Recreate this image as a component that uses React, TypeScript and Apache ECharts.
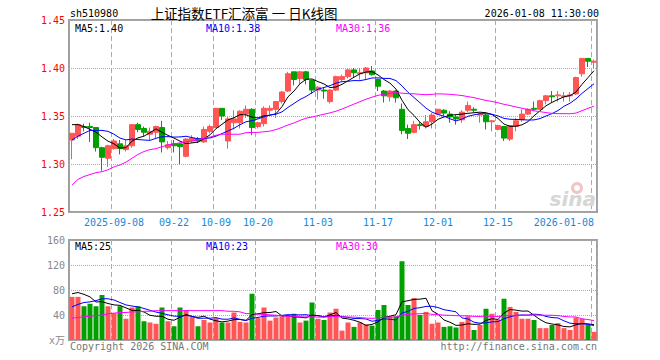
import React, { useEffect, useRef } from 'react';
import * as echarts from 'echarts';

// ---- data ----
const dates = [
  '2025-08-28', '2025-08-29', '2025-09-01', '2025-09-02', '2025-09-03', '2025-09-04', '2025-09-05', '2025-09-08',
  '2025-09-09', '2025-09-10', '2025-09-11', '2025-09-12', '2025-09-15', '2025-09-16', '2025-09-17', '2025-09-18',
  '2025-09-19', '2025-09-22', '2025-09-23', '2025-09-24', '2025-09-25', '2025-09-26', '2025-09-29', '2025-09-30',
  '2025-10-09', '2025-10-10', '2025-10-13', '2025-10-14', '2025-10-15', '2025-10-16', '2025-10-17', '2025-10-20',
  '2025-10-21', '2025-10-22', '2025-10-23', '2025-10-24', '2025-10-27', '2025-10-28', '2025-10-29', '2025-10-30',
  '2025-10-31', '2025-11-03', '2025-11-04', '2025-11-05', '2025-11-06', '2025-11-07', '2025-11-10', '2025-11-11',
  '2025-11-12', '2025-11-13', '2025-11-14', '2025-11-17', '2025-11-18', '2025-11-19', '2025-11-20', '2025-11-21',
  '2025-11-24', '2025-11-25', '2025-11-26', '2025-11-27', '2025-11-28', '2025-12-01', '2025-12-02', '2025-12-03',
  '2025-12-04', '2025-12-05', '2025-12-08', '2025-12-09', '2025-12-10', '2025-12-11', '2025-12-12', '2025-12-15',
  '2025-12-16', '2025-12-17', '2025-12-18', '2025-12-19', '2025-12-22', '2025-12-23', '2025-12-24', '2025-12-25',
  '2025-12-26', '2025-12-29', '2025-12-30', '2025-12-31', '2026-01-05', '2026-01-06', '2026-01-07', '2026-01-08',
];

const opens = [
  1.325, 1.329, 1.339, 1.339, 1.338, 1.317, 1.306, 1.316, 1.321, 1.315, 1.319, 1.341, 1.337, 1.331, 1.333, 1.338,
  1.317, 1.321, 1.321, 1.308, 1.324, 1.326, 1.323, 1.334, 1.338, 1.358, 1.324, 1.343, 1.343, 1.352, 1.357, 1.339,
  1.342, 1.356, 1.357, 1.365, 1.376, 1.396, 1.389, 1.396, 1.387, 1.377, 1.377, 1.365, 1.377, 1.388, 1.391, 1.398,
  1.394, 1.395, 1.397, 1.388, 1.376, 1.370, 1.376, 1.357, 1.337, 1.333, 1.341, 1.339, 1.344, 1.352, 1.356, 1.352,
  1.349, 1.346, 1.356, 1.357, 1.351, 1.351, 1.344, 1.336, 1.339, 1.326, 1.339, 1.346, 1.352, 1.358, 1.357, 1.366,
  1.371, 1.371, 1.370, 1.371, 1.373, 1.394, 1.410, 1.406,
];
const closes = [
  1.332, 1.341, 1.338, 1.338, 1.317, 1.307, 1.319, 1.324, 1.316, 1.319, 1.341, 1.336, 1.333, 1.334, 1.339, 1.323,
  1.320, 1.319, 1.318, 1.326, 1.327, 1.324, 1.336, 1.339, 1.358, 1.350, 1.347, 1.347, 1.355, 1.357, 1.338, 1.343,
  1.358, 1.358, 1.365, 1.375, 1.394, 1.388, 1.396, 1.388, 1.377, 1.380, 1.376, 1.377, 1.391, 1.391, 1.398, 1.395,
  1.395, 1.400, 1.393, 1.381, 1.371, 1.376, 1.369, 1.335, 1.332, 1.341, 1.340, 1.344, 1.351, 1.357, 1.353, 1.349,
  1.347, 1.354, 1.361, 1.356, 1.352, 1.344, 1.345, 1.340, 1.327, 1.340, 1.345, 1.352, 1.357, 1.357, 1.366, 1.371,
  1.370, 1.372, 1.371, 1.372, 1.390, 1.410, 1.407, 1.407,
];
const lows = [
  1.305, 1.326, 1.334, 1.323, 1.313, 1.293, 1.297, 1.315, 1.310, 1.313, 1.317, 1.333, 1.329, 1.325, 1.326, 1.312,
  1.315, 1.312, 1.300, 1.307, 1.322, 1.322, 1.322, 1.332, 1.337, 1.346, 1.316, 1.336, 1.337, 1.348, 1.330, 1.337,
  1.339, 1.352, 1.348, 1.363, 1.375, 1.382, 1.383, 1.383, 1.373, 1.367, 1.368, 1.363, 1.376, 1.386, 1.389, 1.390,
  1.388, 1.388, 1.392, 1.376, 1.364, 1.365, 1.364, 1.331, 1.326, 1.332, 1.336, 1.337, 1.337, 1.351, 1.350, 1.343,
  1.341, 1.343, 1.354, 1.354, 1.343, 1.336, 1.334, 1.335, 1.324, 1.324, 1.334, 1.344, 1.351, 1.355, 1.357, 1.362,
  1.364, 1.365, 1.365, 1.365, 1.372, 1.391, 1.401, 1.400,
];
const highs = [
  1.332, 1.342, 1.342, 1.343, 1.338, 1.318, 1.320, 1.326, 1.325, 1.325, 1.341, 1.343, 1.339, 1.338, 1.340, 1.345,
  1.324, 1.325, 1.322, 1.327, 1.330, 1.328, 1.339, 1.341, 1.358, 1.358, 1.349, 1.356, 1.356, 1.361, 1.358, 1.344,
  1.360, 1.361, 1.365, 1.376, 1.396, 1.396, 1.397, 1.397, 1.388, 1.381, 1.380, 1.378, 1.392, 1.393, 1.399, 1.400,
  1.400, 1.401, 1.402, 1.389, 1.377, 1.377, 1.377, 1.363, 1.341, 1.345, 1.344, 1.351, 1.353, 1.357, 1.357, 1.355,
  1.351, 1.356, 1.365, 1.359, 1.353, 1.352, 1.346, 1.341, 1.339, 1.340, 1.348, 1.357, 1.358, 1.365, 1.367, 1.372,
  1.376, 1.376, 1.375, 1.375, 1.391, 1.410, 1.410, 1.409,
];

// volume, in 万 (x万)
const volumes = [
  69, 69, 54, 58, 54, 72, 54, 43, 54, 34, 52, 54, 30, 28, 26, 52,
  30, 22, 52, 48, 37, 22, 32, 28, 35, 28, 28, 44, 29, 28, 74, 35,
  52, 31, 36, 38, 38, 42, 28, 31, 60, 34, 32, 44, 50, 15, 28, 21,
  28, 25, 23, 48, 56, 38, 38, 126, 56, 67, 40, 45, 26, 28, 21, 22,
  20, 29, 38, 16, 24, 50, 42, 33, 66, 53, 45, 34, 34, 32, 19, 19,
  24, 27, 19, 16, 36, 34, 24, 13,
];

// moving-average values visible before enough days exist in this window
const ma5Lead = [1.341, 1.341, 1.339, 1.336];
const ma10Lead = [1.325, 1.329, 1.332, 1.335, 1.335, 1.335, 1.334, 1.331, 1.327];
const ma30Lead = [
  1.278, 1.284, 1.287, 1.289, 1.291, 1.292, 1.294, 1.297, 1.299, 1.302, 1.306, 1.310, 1.313, 1.315, 1.316,
  1.318, 1.320, 1.321, 1.322, 1.323, 1.324, 1.325, 1.327, 1.328, 1.330, 1.331, 1.331, 1.331, 1.331,
];
const vma5Lead = [74, 76, 73, 69];
const vma10Lead = [53, 57, 60, 61, 63, 66, 66, 64, 60];
const vma30Lead = [
  35, 36, 37, 38, 39, 40, 42, 43, 44, 44, 45, 45, 46, 46, 47,
  47, 47, 47, 47, 47, 47, 47, 47, 47, 47, 47, 46, 46, 45,
];

const tickDates = ['2025-09-08', '2025-09-22', '2025-10-09', '2025-10-20', '2025-11-03', '2025-11-17', '2025-12-01', '2025-12-15', '2026-01-08'];
const tickTexts = ['2025-09-08', '09-22', '10-09', '10-20', '11-03', '11-17', '12-01', '12-15', '2026-01-08'];

const stockCode = 'sh510980';
const titleText = '上证指数ETF汇添富 一 日K线图';
const timeText = '2026-01-08 11:30:00';
const priceLegend = ['MA5:1.40', 'MA10:1.38', 'MA30:1.36'];
const volumeLegend = ['MA5:25', 'MA10:23', 'MA30:30'];
const copyrightText = 'Copyright 2026 SINA.COM';
const urlText = 'http://finance.sina.com.cn';

// ---- helpers ----
function movingAverage(values: number[], n: number, lead: number[]): number[] {
  return values.map((_, i) => {
    if (i < n - 1) return lead[i];
    let s = 0;
    for (let k = i - n + 1; k <= i; k++) s += values[k];
    return s / n;
  });
}

const MONO = "'DejaVu Sans Mono', 'Liberation Mono', 'Noto Sans CJK SC', monospace";
const UP = '#ff5555';
const DOWN = '#00a000';
const MA_COLORS = ['#000000', '#0000ff', '#ff00ff'];
const GRID_LINE = '#aaaaaa';

export default function App() {
  const ref = useRef<HTMLDivElement>(null);

  useEffect(() => {
    document.body.style.margin = '0';
    if (!ref.current) return;
    const chart = echarts.init(ref.current, undefined, { renderer: 'svg' });

    const tickIdx = new Set(tickDates.map((d) => dates.indexOf(d)));
    const isTick = (i: number) => tickIdx.has(i);

    const ma5 = movingAverage(closes, 5, ma5Lead);
    const ma10 = movingAverage(closes, 10, ma10Lead);
    const ma30 = movingAverage(closes, 30, ma30Lead);
    const vma5 = movingAverage(volumes, 5, vma5Lead);
    const vma10 = movingAverage(volumes, 10, vma10Lead);
    const vma30 = movingAverage(volumes, 30, vma30Lead);

    const lineSeries = (data: number[], color: string, axis: number) => ({
      type: 'line',
      xAxisIndex: axis,
      yAxisIndex: axis,
      data,
      showSymbol: false,
      symbol: 'none',
      smooth: false,
      lineStyle: { color, width: 1 },
      z: 5,
      silent: true,
    });

    const textEl = (text: string, x: number, y: number, fill: string, align = 'left', font = `10px ${MONO}`) => ({
      type: 'text',
      x,
      y,
      z: 20,
      style: { text, fill, font, textAlign: align, textVerticalAlign: 'middle' },
    });

    const splitX = { show: true, interval: (i: number) => isTick(i), lineStyle: { color: GRID_LINE, type: [5, 3], width: 1 } };

    const option: any = {
      animation: false,
      backgroundColor: '#ffffff',
      grid: [
        { left: 69, width: 528, top: 20, height: 192, show: true, borderColor: '#a0a0a0', borderWidth: 2, backgroundColor: 'transparent' },
        { left: 69, width: 528, top: 240, height: 100, show: true, borderColor: '#a0a0a0', borderWidth: 2, backgroundColor: 'transparent' },
      ],
      xAxis: [
        {
          type: 'category',
          gridIndex: 0,
          data: dates,
          boundaryGap: true,
          axisLine: { show: false },
          axisTick: { show: false },
          axisLabel: {
            interval: (i: number) => isTick(i),
            formatter: (v: string) => {
              const k = tickDates.indexOf(v);
              return k >= 0 ? tickTexts[k] : '';
            },
            color: '#1a88d8',
            fontFamily: MONO,
            fontSize: 10,
            margin: 5,
            alignMaxLabel: 'right',
          },
          splitLine: splitX,
        },
        {
          type: 'category',
          gridIndex: 1,
          data: dates,
          boundaryGap: true,
          axisLine: { show: false },
          axisTick: { show: false },
          axisLabel: { show: false },
          splitLine: splitX,
        },
      ],
      yAxis: [
        {
          type: 'value',
          gridIndex: 0,
          min: 1.25,
          max: 1.45,
          interval: 0.05,
          axisLine: { show: false },
          axisTick: { show: false },
          axisLabel: {
            color: '#ff0000',
            fontFamily: MONO,
            fontSize: 10,
            margin: 4,
            formatter: (v: number) => v.toFixed(2),
          },
          splitLine: { show: true, lineStyle: { type: 'dotted', color: GRID_LINE, width: 1 } },
        },
        {
          type: 'value',
          gridIndex: 1,
          min: 0,
          max: 160,
          interval: 40,
          axisLine: { show: false },
          axisTick: { show: false },
          axisLabel: {
            color: '#888888',
            fontFamily: MONO,
            fontSize: 10,
            margin: 4,
            formatter: (v: number) => (v === 0 ? 'x万' : String(v)),
          },
          splitLine: { show: true, lineStyle: { type: 'dotted', color: GRID_LINE, width: 1 } },
        },
      ],
      series: [
        {
          type: 'candlestick',
          xAxisIndex: 0,
          yAxisIndex: 0,
          barWidth: 5,
          data: dates.map((_, i) => [opens[i], closes[i], lows[i], highs[i]]),
          itemStyle: { color: UP, color0: DOWN, borderColor: UP, borderColor0: DOWN, borderWidth: 1 },
          z: 3,
        },
        lineSeries(ma5, MA_COLORS[0], 0),
        lineSeries(ma10, MA_COLORS[1], 0),
        lineSeries(ma30, MA_COLORS[2], 0),
        {
          type: 'bar',
          xAxisIndex: 1,
          yAxisIndex: 1,
          barWidth: 5,
          data: volumes.map((v, i) => ({ value: v, itemStyle: { color: closes[i] >= opens[i] ? UP : DOWN } })),
          z: 3,
        },
        lineSeries(vma5, MA_COLORS[0], 1),
        lineSeries(vma10, MA_COLORS[1], 1),
        lineSeries(vma30, MA_COLORS[2], 1),
      ],
      graphic: [
        textEl(stockCode, 70, 13, '#000000'),
        textEl(titleText, 244, 13, '#000000', 'center', "13.5px 'Noto Sans CJK SC', sans-serif"),
        textEl(timeText, 599, 13, '#000000', 'right'),
        textEl(priceLegend[0], 75, 28, MA_COLORS[0]),
        textEl(priceLegend[1], 206, 28, MA_COLORS[1]),
        textEl(priceLegend[2], 336, 28, MA_COLORS[2]),
        textEl(volumeLegend[0], 75, 246, MA_COLORS[0]),
        textEl(volumeLegend[1], 206, 246, MA_COLORS[1]),
        textEl(volumeLegend[2], 336, 246, MA_COLORS[2]),
        textEl(copyrightText, 70, 346, '#777777'),
        textEl(urlText, 597, 346, '#777777', 'right'),
        {
          type: 'ring',
          z: 1,
          shape: { cx: 577, cy: 188, r: 6, r0: 3 },
          style: { fill: '#f3c4c4' },
        },
        textEl('sina', 596, 199, '#d6d6d6', 'right', "italic bold 20px 'DejaVu Sans', sans-serif"),
      ],
    };

    chart.setOption(option);
    return () => chart.dispose();
  }, []);

  return <div ref={ref} style={{ width: 660, height: 360 }} />;
}
